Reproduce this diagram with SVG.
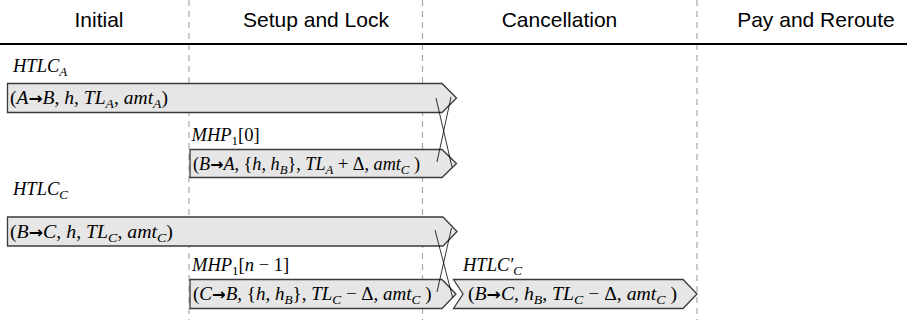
<svg xmlns="http://www.w3.org/2000/svg" width="907" height="323" viewBox="0 0 907 323">
<style>
.hdr{font-family:"Liberation Sans",Arial,sans-serif;font-size:21px;text-anchor:middle;fill:#000}
.m{font-family:"Liberation Serif","Times New Roman",serif;font-size:18.5px;fill:#000}
.i{font-style:italic}
.s{font-size:13px}
.ar{font-family:"DejaVu Sans",sans-serif;font-weight:bold;font-size:16px}
.bar{fill:#e6e6e6;stroke:#3a3a3a;stroke-width:1.3}
.div{stroke:#a8a8a8;stroke-width:1.2;stroke-dasharray:6 5;fill:none}
.x{stroke:#000;stroke-width:0.8;fill:none}
</style>
<rect x="0" y="0" width="907" height="323" fill="#fff"/>
<g id="dividers">
<line class="div" x1="189" y1="0" x2="189" y2="320"/>
<line class="div" x1="422.5" y1="0" x2="422.5" y2="320"/>
<line class="div" x1="697" y1="0" x2="697" y2="320"/>
</g>
<g id="header">
<text class="hdr" x="99" y="27">Initial</text>
<text class="hdr" x="316" y="27">Setup and Lock</text>
<text class="hdr" x="559.5" y="27">Cancellation</text>
<text class="hdr" x="816" y="27">Pay and Reroute</text>
<line x1="0" y1="44" x2="907" y2="44" stroke="#000" stroke-width="2"/>
</g>
<g id="htlcA">
<text class="m" x="13" y="71.5"><tspan class="i">HTLC</tspan><tspan class="i s" dy="4">A</tspan></text>
<polygon class="bar" points="7.5,83.5 442,83.5 456.5,98 442,112.5 7.5,112.5"/>
<text class="m" x="10" y="104" textLength="158" lengthAdjust="spacingAndGlyphs">(<tspan class="i">A</tspan><tspan class="ar">→</tspan><tspan class="i">B</tspan>, <tspan class="i">h</tspan>, <tspan class="i">TL</tspan><tspan class="i s" dy="4">A</tspan><tspan dy="-4">, </tspan><tspan class="i">amt</tspan><tspan class="i s" dy="4">A</tspan><tspan dy="-4">)</tspan></text>
</g>
<g id="mhp0">
<text class="m" x="191.5" y="141"><tspan class="i">MHP</tspan><tspan class="s" dy="4">1</tspan><tspan dy="-4">[0]</tspan></text>
<polygon class="bar" points="190,149.5 442,149.5 456.5,163.5 442,177.5 190,177.5"/>
<text class="m" x="193" y="169.5" textLength="227" lengthAdjust="spacingAndGlyphs">(<tspan class="i">B</tspan><tspan class="ar">→</tspan><tspan class="i">A</tspan>, {<tspan class="i">h</tspan>, <tspan class="i">h</tspan><tspan class="i s" dy="4">B</tspan><tspan dy="-4">}, </tspan><tspan class="i">TL</tspan><tspan class="i s" dy="4">A</tspan><tspan dy="-4"> + Δ, </tspan><tspan class="i">amt</tspan><tspan class="i s" dy="4">C</tspan><tspan dy="-4"> )</tspan></text>
</g>
<g id="htlcC">
<text class="m" x="13" y="195"><tspan class="i">HTLC</tspan><tspan class="i s" dy="4">C</tspan></text>
<polygon class="bar" points="7.5,217 443,217 457,231.5 443,246 7.5,246"/>
<text class="m" x="10" y="237.5" textLength="163" lengthAdjust="spacingAndGlyphs">(<tspan class="i">B</tspan><tspan class="ar">→</tspan><tspan class="i">C</tspan>, <tspan class="i">h</tspan>, <tspan class="i">TL</tspan><tspan class="i s" dy="4">C</tspan><tspan dy="-4">, </tspan><tspan class="i">amt</tspan><tspan class="i s" dy="4">C</tspan><tspan dy="-4">)</tspan></text>
</g>
<g id="mhpn1">
<text class="m" x="192" y="271"><tspan class="i">MHP</tspan><tspan class="s" dy="4">1</tspan><tspan dy="-4">[</tspan><tspan class="i">n</tspan> − 1]</text>
<polygon class="bar" points="190,279.5 442,279.5 456,294 442,308.5 190,308.5"/>
<text class="m" x="193" y="300" textLength="238.5" lengthAdjust="spacingAndGlyphs">(<tspan class="i">C</tspan><tspan class="ar">→</tspan><tspan class="i">B</tspan>, {<tspan class="i">h</tspan>, <tspan class="i">h</tspan><tspan class="i s" dy="4">B</tspan><tspan dy="-4">}, </tspan><tspan class="i">TL</tspan><tspan class="i s" dy="4">C</tspan><tspan dy="-4"> − Δ, </tspan><tspan class="i">amt</tspan><tspan class="i s" dy="4">C</tspan><tspan dy="-4"> )</tspan></text>
</g>
<g id="htlcCprime">
<text class="m" x="463" y="271"><tspan class="i">HTLC′</tspan><tspan class="i s" dy="4">C</tspan></text>
<polygon class="bar" points="453.5,279.5 683,279.5 697,294 683,308.5 453.5,308.5 463,294"/>
<text class="m" x="468" y="300" textLength="209" lengthAdjust="spacingAndGlyphs">(<tspan class="i">B</tspan><tspan class="ar">→</tspan><tspan class="i">C</tspan>, <tspan class="i">h</tspan><tspan class="i s" dy="4">B</tspan><tspan dy="-4">, </tspan><tspan class="i">TL</tspan><tspan class="i s" dy="4">C</tspan><tspan dy="-4"> − Δ, </tspan><tspan class="i">amt</tspan><tspan class="i s" dy="4">C</tspan><tspan dy="-4"> )</tspan></text>
</g>
<g id="connectors">
<line class="x" x1="436" y1="98" x2="452" y2="167"/>
<line class="x" x1="451" y1="97" x2="437" y2="162"/>
<line class="x" x1="435" y1="230" x2="452.5" y2="297"/>
<line class="x" x1="451.5" y1="228" x2="437" y2="292"/>
</g>
</svg>
